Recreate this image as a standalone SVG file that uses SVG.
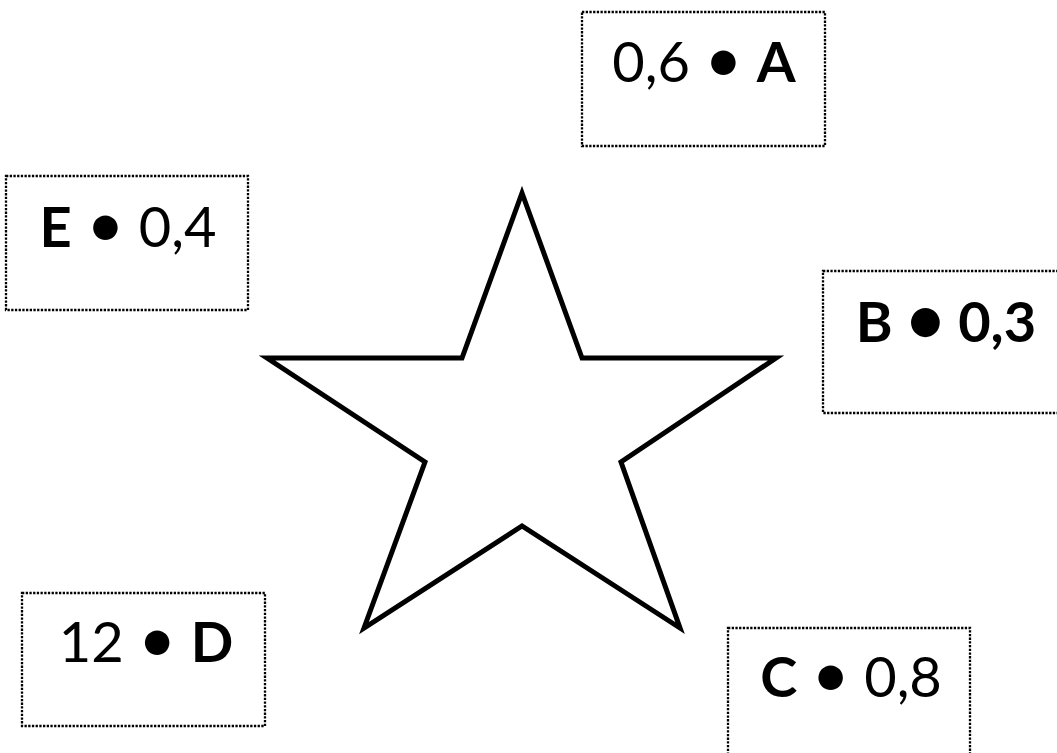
<svg xmlns="http://www.w3.org/2000/svg" width="1057" height="753" viewBox="0 0 1057 753">
<style>
.box{fill:#fff;stroke:#000;stroke-width:2.3;stroke-dasharray:2.3 1.4}
.t{font-family:Lato,"Open Sans","Liberation Sans",sans-serif;font-size:56px;fill:#000;text-anchor:middle}
.b{font-weight:bold}
.d{font-size:66px}
</style>
<rect width="1057" height="753" fill="#fff"/>
<g id="star">
<polygon points="522,193 582,358 776,358 621,462 680,628 522,526 364,628 425,462 267,358 462,358" fill="#fff" stroke="#000" stroke-width="5"/>
</g>
<g id="nodeA">
<rect class="box" x="582" y="12" width="243" height="134"/>
<text class="t" x="704" y="82">0,6 <tspan class="d">•</tspan> <tspan class="b">A</tspan></text>
</g>
<g id="nodeE">
<rect class="box" x="6" y="176" width="242" height="134"/>
<text class="t" x="128" y="247"><tspan class="b">E</tspan> <tspan class="d">•</tspan> 0,4</text>
</g>
<g id="nodeB">
<rect class="box" x="823" y="271" width="243" height="142"/>
<text class="t b" x="946" y="342">B <tspan class="d">•</tspan> 0,3</text>
</g>
<g id="nodeD">
<rect class="box" x="22" y="593" width="243" height="133"/>
<text class="t" x="146" y="662">12 <tspan class="d">•</tspan> <tspan class="b">D</tspan></text>
</g>
<g id="nodeC">
<rect class="box" x="728" y="628" width="242" height="134"/>
<text class="t" x="851" y="697"><tspan class="b">C</tspan> <tspan class="d">•</tspan> 0,8</text>
</g>
<g id="connectors"></g>
</svg>
